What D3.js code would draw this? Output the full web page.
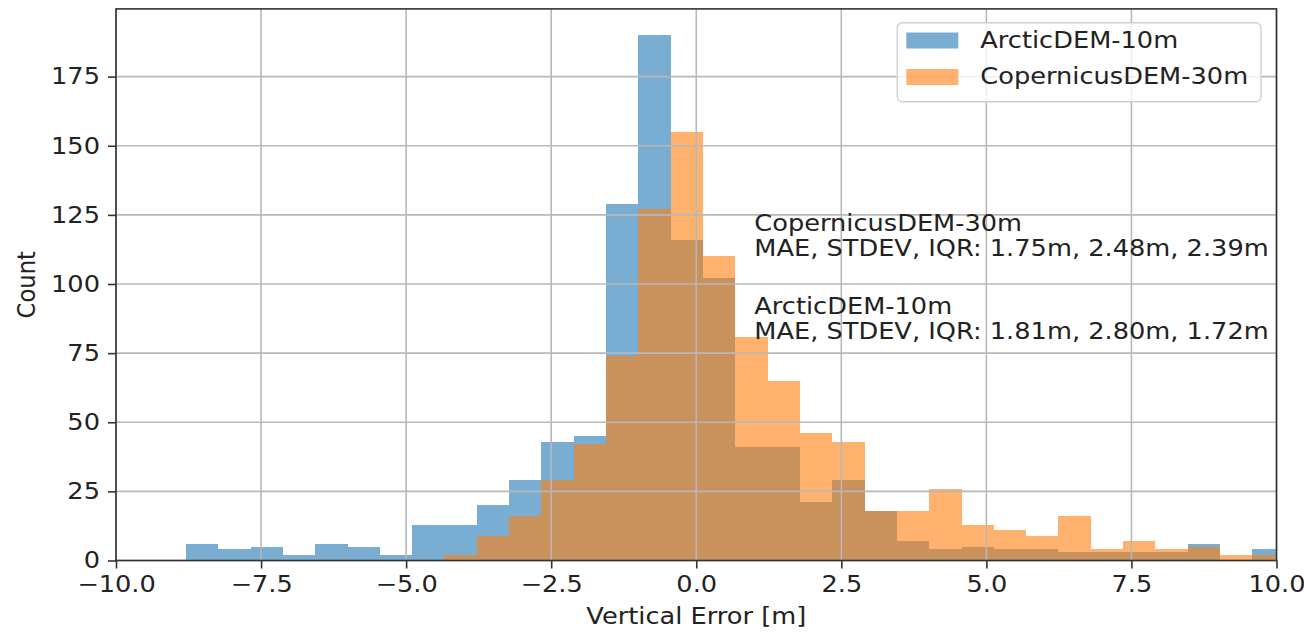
<!DOCTYPE html>
<html>
<head>
<meta charset="utf-8">
<script src="https://cdn.jsdelivr.net/npm/d3@7"></script>
<style>
  html, body { margin: 0; padding: 0; background: #fff; }
  svg { display: block; font-family: "DejaVu Sans", sans-serif; }
</style>
</head>
<body>
<svg id="chart" width="1304" height="637"></svg>
<script>
// histogram bins (shared by both series)
const binStart = -8.794;
const binWidth = 0.5569;

const arcticCounts = [6, 4, 5, 2, 6, 5, 2, 13, 13, 20, 29, 43, 45, 129, 190, 116, 102, 41, 41, 21,
  29, 18, 7, 4, 5, 4, 4, 3, 3, 3, 3, 6, 0, 4];
const copernicusCounts = [0, 0, 0, 0, 0, 0, 0, 0, 2, 9, 16, 29, 42, 74, 127, 155, 110, 81, 65, 46,
  43, 18, 18, 26, 13, 11, 9, 16, 4, 7, 4, 5, 2, 2];

const seriesNames = ['ArcticDEM-10m', 'CopernicusDEM-30m'];
const seriesColors = ['#1f77b4', '#ff7f0e'];

const xTicks = [-10, -7.5, -5, -2.5, 0, 2.5, 5, 7.5, 10];
const yTicks = [0, 25, 50, 75, 100, 125, 150, 175];

// annotations: [x, y, line1, line2]
const notes = [
  [1, 110, 'CopernicusDEM-30m', 'MAE, STDEV, IQR: 1.75m, 2.48m, 2.39m'],
  [1, 80, 'ArcticDEM-10m', 'MAE, STDEV, IQR: 1.81m, 2.80m, 1.72m']
];

const fontSize = 22.7;
const stretch = 1.13;   // the picture is a bit wider than tall
const textColor = '#222';

const margin = { left: 116, right: 1276.5, top: 8.9, bottom: 560.5 };

const svg = d3.select('#chart');

const x = d3.scaleLinear().domain([-10, 10]).range([margin.left, margin.right]);
const y = d3.scaleLinear().domain([0, 199.5]).range([margin.bottom, margin.top]);

svg.append('defs').append('clipPath').attr('id', 'plotClip')
  .append('rect')
  .attr('x', margin.left).attr('y', margin.top)
  .attr('width', margin.right - margin.left)
  .attr('height', margin.bottom - margin.top);

// bars
const plot = svg.append('g').attr('clip-path', 'url(#plotClip)');
[arcticCounts, copernicusCounts].forEach(function (counts, s) {
  plot.append('g')
    .selectAll('rect')
    .data(counts)
    .enter()
    .append('rect')
    .attr('x', (d, i) => x(binStart + i * binWidth))
    .attr('width', (d, i) => x(binStart + (i + 1) * binWidth) - x(binStart + i * binWidth))
    .attr('y', d => y(d))
    .attr('height', d => y(0) - y(d))
    .attr('fill', seriesColors[s])
    .attr('fill-opacity', 0.6)
    .attr('shape-rendering', 'crispEdges');
});

// grid (on top of the bars, like matplotlib)
const grid = svg.append('g').attr('stroke', '#b8b8b8').attr('stroke-width', 1.6);
grid.selectAll('line.gx').data(xTicks).enter().append('line')
  .attr('x1', d => x(d)).attr('x2', d => x(d))
  .attr('y1', margin.top).attr('y2', margin.bottom);
grid.selectAll('line.gy').data(yTicks).enter().append('line')
  .attr('x1', margin.left).attr('x2', margin.right)
  .attr('y1', d => y(d)).attr('y2', d => y(d));

// axes
const xAxis = svg.append('g')
  .attr('transform', `translate(0,${margin.bottom})`)
  .call(d3.axisBottom(x).tickValues(xTicks).tickFormat(d3.format('.1f')).tickSize(8).tickPadding(7));
const yAxis = svg.append('g')
  .attr('transform', `translate(${margin.left},0)`)
  .call(d3.axisLeft(y).tickValues(yTicks).tickFormat(d3.format('d')).tickSize(8).tickPadding(8));

[xAxis, yAxis].forEach(function (ax) {
  ax.select('.domain').remove();
  ax.selectAll('.tick line').attr('stroke', '#333').attr('stroke-width', 1.6);
  ax.selectAll('.tick text')
    .attr('fill', textColor)
    .style('font-size', fontSize + 'px')
    .style('font-family', '"DejaVu Sans", sans-serif');
});
xAxis.selectAll('.tick text').attr('transform', `scale(${stretch},1)`);
yAxis.selectAll('.tick text').each(function () {
  const t = d3.select(this);
  t.attr('x', +t.attr('x') / stretch).attr('transform', `scale(${stretch},1)`);
});

// frame
svg.append('rect')
  .attr('x', margin.left).attr('y', margin.top)
  .attr('width', margin.right - margin.left)
  .attr('height', margin.bottom - margin.top)
  .attr('fill', 'none').attr('stroke', '#333').attr('stroke-width', 1.6);

function label(g, px, py, txt, anchor, extra) {
  return g.append('text')
    .attr('transform', `translate(${px},${py}) scale(${stretch},1)` + (extra || ''))
    .attr('text-anchor', anchor)
    .attr('fill', textColor)
    .style('font-size', fontSize + 'px')
    .text(txt);
}

// axis titles
label(svg, (margin.left + margin.right) / 2, 624, 'Vertical Error [m]', 'middle');
label(svg, 35, (margin.top + margin.bottom) / 2, 'Count', 'middle', ' rotate(-90)');

// stats annotations
notes.forEach(function (n) {
  label(svg, x(n[0]), y(n[1]) - 25, n[2], 'start');
  label(svg, x(n[0]), y(n[1]), n[3], 'start');
});

// legend
const legend = svg.append('g');
const legBox = legend.append('rect')
  .attr('rx', 5).attr('ry', 5)
  .attr('fill', '#fff').attr('fill-opacity', 0.8)
  .attr('stroke', '#d0d0d0').attr('stroke-width', 1.4);

let textW = 0;
const rowH = 36.5;
const boxTop = margin.top + 13.8;
const patchW = 52, patchH = 16;
seriesNames.forEach(function (name, i) {
  const cy = boxTop + 17.8 + i * rowH;
  legend.append('rect')
    .attr('y', cy - patchH / 2)
    .attr('width', patchW).attr('height', patchH)
    .attr('class', 'lpatch')
    .attr('fill', seriesColors[i]).attr('fill-opacity', 0.6);
  const t = legend.append('text')
    .attr('class', 'ltext')
    .attr('dominant-baseline', 'central')
    .attr('fill', textColor)
    .style('font-size', fontSize + 'px')
    .attr('data-cy', cy)
    .text(name);
  textW = Math.max(textW, t.node().getComputedTextLength() * stretch);
});
const boxW = 9 + patchW + 22 + textW + 13;
const boxLeft = margin.right - 15.5 - boxW;
legBox.attr('x', boxLeft).attr('y', boxTop).attr('width', boxW).attr('height', 79);
legend.selectAll('.lpatch').attr('x', boxLeft + 9);
legend.selectAll('.ltext').each(function () {
  const t = d3.select(this);
  t.attr('transform', `translate(${boxLeft + 9 + patchW + 22},${t.attr('data-cy')}) scale(${stretch},1)`);
});
</script>
</body>
</html>
